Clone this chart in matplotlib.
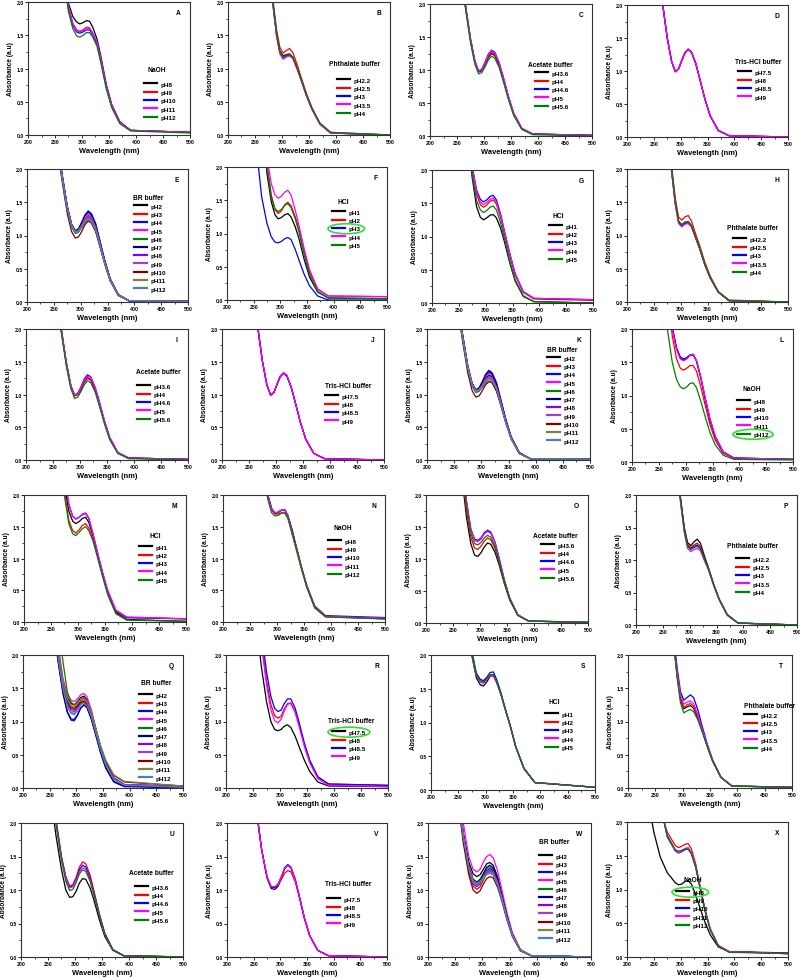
import matplotlib
matplotlib.use("Agg")
import matplotlib.pyplot as plt
from matplotlib.patches import Ellipse
from matplotlib.ticker import MultipleLocator, FormatStrFormatter

plt.rcParams['font.family'] = ['Liberation Sans', 'DejaVu Sans']
plt.rcParams['font.weight'] = 'bold'
plt.rcParams['axes.labelweight'] = 'bold'

# wavelength grid (nm) used for reading the curves
wl = [255, 265, 275, 283, 290, 296, 302, 308, 314, 320, 328, 335, 345, 355, 370, 390, 500]
wl_x = [240, 250, 262, 275, 290, 296, 302, 308, 314, 320, 328, 335, 345, 355, 370, 390, 500]

naoh_labels = ['pH8', 'pH9', 'pH10', 'pH11', 'pH12']
phth_labels = ['pH2.2', 'pH2.5', 'pH3', 'pH3.5', 'pH4']
acet_labels = ['pH3.6', 'pH4', 'pH4.6', 'pH5', 'pH5.6']
tris_labels = ['pH7.5', 'pH8', 'pH8.5', 'pH9']
hcl_labels = ['pH1', 'pH2', 'pH3', 'pH4', 'pH5']
br_labels = ['pH2', 'pH3', 'pH4', 'pH5', 'pH6', 'pH7', 'pH8', 'pH9', 'pH10', 'pH11', 'pH12']

colors5 = ['#000000', '#ff0000', '#0000ff', '#ff00ff', '#008000']
colors11 = ['#000000', '#ff0000', '#0000ff', '#ff00ff', '#008000', '#000080',
            '#8000ff', '#a040c8', '#800000', '#808040', '#4682b4']

# absorbance readings, one list per pH, in legend order
A_curves = [
    [3.5, 2.6, 1.98, 1.78, 1.70, 1.67, 1.69, 1.72, 1.71, 1.62, 1.44, 1.18, 0.76, 0.46, 0.20, 0.07, 0.04],
    [3.4, 2.5, 1.92, 1.68, 1.58, 1.56, 1.58, 1.62, 1.61, 1.53, 1.38, 1.13, 0.73, 0.44, 0.19, 0.07, 0.04],
    [3.4, 2.5, 1.90, 1.65, 1.55, 1.53, 1.55, 1.58, 1.58, 1.51, 1.37, 1.12, 0.73, 0.44, 0.19, 0.07, 0.04],
    [3.4, 2.5, 1.93, 1.67, 1.57, 1.55, 1.57, 1.61, 1.60, 1.53, 1.39, 1.14, 0.74, 0.45, 0.19, 0.07, 0.04],
    [3.3, 2.4, 1.85, 1.60, 1.49, 1.47, 1.50, 1.54, 1.54, 1.47, 1.33, 1.08, 0.69, 0.41, 0.17, 0.06, 0.03],
]
B_curves = [
    [4.5, 3.6, 2.6, 2.0, 1.52, 1.26, 1.19, 1.21, 1.22, 1.17, 1.01, 0.85, 0.61, 0.40, 0.17, 0.03, 0.0],
    [4.6, 3.7, 2.7, 2.05, 1.58, 1.32, 1.23, 1.27, 1.30, 1.24, 1.06, 0.88, 0.63, 0.42, 0.18, 0.04, 0.0],
    [4.5, 3.6, 2.6, 1.98, 1.50, 1.24, 1.16, 1.19, 1.20, 1.16, 1.00, 0.84, 0.60, 0.40, 0.17, 0.03, 0.0],
    [4.4, 3.5, 2.55, 1.96, 1.48, 1.22, 1.14, 1.17, 1.19, 1.15, 0.99, 0.83, 0.59, 0.39, 0.16, 0.03, 0.0],
    [4.5, 3.6, 2.6, 2.0, 1.52, 1.25, 1.17, 1.20, 1.21, 1.17, 1.01, 0.85, 0.61, 0.41, 0.18, 0.04, 0.0],
]
C_curves = [
    [2.6, 2.0, 1.45, 1.12, 0.97, 0.99, 1.08, 1.19, 1.25, 1.22, 1.07, 0.88, 0.58, 0.33, 0.11, 0.03, 0.01],
    [2.6, 2.0, 1.46, 1.13, 0.98, 1.00, 1.10, 1.21, 1.27, 1.24, 1.09, 0.89, 0.59, 0.34, 0.11, 0.03, 0.01],
    [2.65, 2.02, 1.47, 1.14, 0.98, 1.01, 1.12, 1.24, 1.30, 1.27, 1.11, 0.91, 0.60, 0.34, 0.11, 0.03, 0.01],
    [2.65, 2.03, 1.48, 1.14, 0.98, 1.01, 1.11, 1.23, 1.29, 1.26, 1.11, 0.92, 0.61, 0.35, 0.12, 0.03, 0.01],
    [2.55, 1.97, 1.42, 1.09, 0.94, 0.96, 1.05, 1.15, 1.21, 1.18, 1.04, 0.85, 0.56, 0.31, 0.10, 0.02, 0.0],
]
D_curves = [
    [3.0, 2.1, 1.5, 1.15, 0.99, 1.03, 1.16, 1.28, 1.33, 1.29, 1.12, 0.90, 0.58, 0.32, 0.10, 0.02, 0.0],
    [3.0, 2.1, 1.5, 1.15, 0.99, 1.03, 1.15, 1.27, 1.32, 1.28, 1.11, 0.90, 0.58, 0.32, 0.10, 0.02, 0.0],
    [3.0, 2.1, 1.5, 1.15, 0.99, 1.03, 1.16, 1.28, 1.33, 1.29, 1.12, 0.90, 0.58, 0.32, 0.10, 0.02, 0.0],
    [3.0, 2.1, 1.5, 1.15, 0.99, 1.03, 1.16, 1.28, 1.33, 1.29, 1.12, 0.90, 0.58, 0.32, 0.10, 0.02, 0.0],
]
E_curves = [
    [2.5, 1.92, 1.42, 1.16, 1.06, 1.08, 1.16, 1.25, 1.30, 1.27, 1.13, 0.91, 0.60, 0.34, 0.11, 0.02, 0.01],
    [2.5, 1.90, 1.40, 1.14, 1.04, 1.06, 1.12, 1.19, 1.22, 1.19, 1.06, 0.86, 0.57, 0.32, 0.10, 0.02, 0.01],
    [2.55, 1.94, 1.44, 1.17, 1.07, 1.10, 1.20, 1.31, 1.37, 1.33, 1.18, 0.95, 0.62, 0.35, 0.11, 0.02, 0.01],
    [2.5, 1.92, 1.43, 1.16, 1.06, 1.09, 1.17, 1.27, 1.32, 1.29, 1.14, 0.92, 0.61, 0.34, 0.11, 0.02, 0.01],
    [2.45, 1.88, 1.39, 1.13, 1.03, 1.05, 1.12, 1.21, 1.25, 1.22, 1.08, 0.88, 0.58, 0.33, 0.10, 0.02, 0.01],
    [2.55, 1.94, 1.44, 1.17, 1.07, 1.10, 1.19, 1.30, 1.35, 1.31, 1.16, 0.94, 0.62, 0.35, 0.11, 0.02, 0.01],
    [2.5, 1.90, 1.41, 1.15, 1.05, 1.07, 1.14, 1.23, 1.28, 1.25, 1.11, 0.90, 0.59, 0.33, 0.10, 0.02, 0.01],
    [2.5, 1.91, 1.42, 1.16, 1.06, 1.08, 1.15, 1.25, 1.30, 1.27, 1.12, 0.91, 0.60, 0.34, 0.11, 0.02, 0.01],
    [2.4, 1.84, 1.33, 1.06, 0.96, 0.98, 1.06, 1.16, 1.22, 1.19, 1.06, 0.86, 0.57, 0.32, 0.10, 0.02, 0.01],
    [2.5, 1.90, 1.41, 1.15, 1.05, 1.07, 1.13, 1.22, 1.26, 1.23, 1.09, 0.89, 0.58, 0.33, 0.10, 0.02, 0.01],
    [2.45, 1.89, 1.40, 1.14, 1.04, 1.06, 1.12, 1.20, 1.24, 1.21, 1.08, 0.87, 0.57, 0.32, 0.10, 0.02, 0.01],
]
F_curves = [
    [3.8, 2.8, 1.90, 1.48, 1.28, 1.22, 1.24, 1.28, 1.30, 1.25, 1.10, 0.92, 0.60, 0.34, 0.12, 0.03, 0.02],
    [4.0, 3.0, 2.05, 1.58, 1.36, 1.30, 1.34, 1.43, 1.47, 1.42, 1.25, 1.06, 0.72, 0.42, 0.16, 0.06, 0.05],
    [2.3, 1.55, 1.15, 0.95, 0.87, 0.86, 0.88, 0.92, 0.94, 0.91, 0.76, 0.60, 0.38, 0.21, 0.06, 0.0, 0.0],
    [4.2, 3.2, 2.15, 1.75, 1.58, 1.53, 1.56, 1.62, 1.65, 1.58, 1.35, 1.12, 0.76, 0.45, 0.17, 0.06, 0.05],
    [3.9, 2.9, 1.98, 1.55, 1.37, 1.33, 1.36, 1.42, 1.45, 1.39, 1.22, 1.02, 0.67, 0.38, 0.13, 0.03, 0.02],
]
G_curves = [
    [3.7, 2.7, 1.88, 1.45, 1.29, 1.25, 1.28, 1.32, 1.33, 1.28, 1.12, 0.92, 0.60, 0.33, 0.10, 0.02, 0.0],
    [3.9, 2.9, 2.0, 1.63, 1.48, 1.44, 1.47, 1.53, 1.55, 1.49, 1.28, 1.04, 0.71, 0.42, 0.16, 0.06, 0.04],
    [4.0, 3.0, 2.05, 1.70, 1.56, 1.52, 1.55, 1.60, 1.62, 1.55, 1.33, 1.08, 0.74, 0.44, 0.17, 0.07, 0.05],
    [4.0, 3.0, 2.05, 1.67, 1.52, 1.48, 1.51, 1.56, 1.58, 1.52, 1.31, 1.07, 0.74, 0.44, 0.17, 0.07, 0.05],
    [3.8, 2.8, 1.92, 1.54, 1.40, 1.36, 1.39, 1.44, 1.46, 1.40, 1.20, 0.97, 0.63, 0.35, 0.11, 0.02, 0.0],
]
H_curves = [
    [4.5, 3.6, 2.6, 2.0, 1.50, 1.22, 1.16, 1.20, 1.21, 1.15, 0.97, 0.82, 0.57, 0.37, 0.15, 0.02, 0.0],
    [4.6, 3.7, 2.7, 2.05, 1.56, 1.28, 1.23, 1.28, 1.30, 1.22, 1.02, 0.86, 0.60, 0.39, 0.16, 0.03, 0.0],
    [4.5, 3.6, 2.6, 1.98, 1.48, 1.20, 1.14, 1.18, 1.19, 1.14, 0.96, 0.81, 0.56, 0.36, 0.15, 0.02, 0.0],
    [4.4, 3.5, 2.55, 1.96, 1.46, 1.18, 1.13, 1.17, 1.18, 1.13, 0.96, 0.81, 0.56, 0.36, 0.15, 0.02, 0.0],
    [4.5, 3.6, 2.6, 2.0, 1.50, 1.22, 1.16, 1.20, 1.21, 1.15, 0.97, 0.82, 0.57, 0.37, 0.15, 0.02, 0.0],
]
I_curves = [
    [2.6, 2.0, 1.45, 1.12, 0.98, 1.00, 1.08, 1.19, 1.25, 1.22, 1.07, 0.88, 0.58, 0.33, 0.11, 0.03, 0.01],
    [2.6, 2.0, 1.46, 1.13, 0.98, 1.00, 1.10, 1.20, 1.26, 1.23, 1.08, 0.89, 0.59, 0.34, 0.11, 0.03, 0.01],
    [2.65, 2.02, 1.47, 1.14, 0.99, 1.02, 1.12, 1.24, 1.30, 1.27, 1.11, 0.91, 0.60, 0.34, 0.11, 0.03, 0.01],
    [2.65, 2.03, 1.48, 1.14, 0.99, 1.01, 1.11, 1.22, 1.28, 1.26, 1.11, 0.92, 0.61, 0.35, 0.12, 0.03, 0.01],
    [2.55, 1.97, 1.42, 1.09, 0.94, 0.96, 1.05, 1.15, 1.21, 1.18, 1.04, 0.85, 0.56, 0.31, 0.10, 0.02, 0.0],
]
J_curves = [
    [3.0, 2.1, 1.5, 1.15, 0.99, 1.03, 1.16, 1.28, 1.33, 1.29, 1.12, 0.90, 0.58, 0.32, 0.10, 0.02, 0.0],
    [3.0, 2.1, 1.5, 1.15, 0.99, 1.03, 1.16, 1.28, 1.33, 1.29, 1.12, 0.90, 0.58, 0.32, 0.10, 0.02, 0.0],
    [3.0, 2.1, 1.5, 1.15, 0.99, 1.03, 1.15, 1.27, 1.32, 1.28, 1.11, 0.90, 0.58, 0.32, 0.10, 0.02, 0.0],
    [3.0, 2.1, 1.5, 1.15, 0.99, 1.03, 1.16, 1.28, 1.33, 1.29, 1.12, 0.90, 0.58, 0.32, 0.10, 0.02, 0.0],
]
K_curves = [
    [2.5, 1.92, 1.42, 1.16, 1.06, 1.08, 1.16, 1.25, 1.30, 1.27, 1.13, 0.91, 0.60, 0.34, 0.11, 0.02, 0.01],
    [2.5, 1.90, 1.40, 1.14, 1.04, 1.06, 1.11, 1.17, 1.20, 1.18, 1.05, 0.86, 0.57, 0.32, 0.10, 0.02, 0.01],
    [2.55, 1.94, 1.44, 1.17, 1.07, 1.10, 1.20, 1.31, 1.37, 1.33, 1.18, 0.95, 0.62, 0.35, 0.11, 0.02, 0.01],
    [2.5, 1.92, 1.43, 1.16, 1.06, 1.09, 1.18, 1.28, 1.33, 1.30, 1.15, 0.93, 0.61, 0.34, 0.11, 0.02, 0.01],
    [2.45, 1.88, 1.39, 1.13, 1.03, 1.05, 1.12, 1.21, 1.25, 1.22, 1.08, 0.88, 0.58, 0.33, 0.10, 0.02, 0.01],
    [2.55, 1.94, 1.44, 1.17, 1.07, 1.10, 1.19, 1.30, 1.35, 1.31, 1.16, 0.94, 0.62, 0.35, 0.11, 0.02, 0.01],
    [2.5, 1.90, 1.41, 1.15, 1.05, 1.07, 1.14, 1.23, 1.28, 1.25, 1.11, 0.90, 0.59, 0.33, 0.10, 0.02, 0.01],
    [2.5, 1.91, 1.42, 1.16, 1.06, 1.08, 1.14, 1.23, 1.27, 1.25, 1.11, 0.90, 0.59, 0.33, 0.10, 0.02, 0.01],
    [2.4, 1.84, 1.33, 1.06, 0.96, 0.98, 1.06, 1.15, 1.20, 1.18, 1.05, 0.86, 0.57, 0.32, 0.10, 0.02, 0.01],
    [2.5, 1.90, 1.41, 1.15, 1.05, 1.07, 1.13, 1.21, 1.25, 1.22, 1.09, 0.89, 0.58, 0.33, 0.10, 0.02, 0.01],
    [2.45, 1.89, 1.40, 1.14, 1.04, 1.06, 1.12, 1.19, 1.23, 1.21, 1.08, 0.87, 0.57, 0.32, 0.10, 0.02, 0.01],
]
L_curves = [
    [3.9, 2.9, 2.02, 1.70, 1.56, 1.53, 1.56, 1.60, 1.61, 1.52, 1.27, 1.00, 0.64, 0.38, 0.15, 0.06, 0.04],
    [3.6, 2.6, 1.90, 1.55, 1.41, 1.38, 1.41, 1.45, 1.45, 1.37, 1.14, 0.90, 0.57, 0.33, 0.13, 0.05, 0.04],
    [3.9, 2.9, 2.03, 1.72, 1.58, 1.55, 1.57, 1.61, 1.62, 1.53, 1.28, 1.01, 0.65, 0.38, 0.15, 0.06, 0.04],
    [3.9, 2.9, 2.0, 1.69, 1.55, 1.52, 1.55, 1.60, 1.62, 1.53, 1.28, 1.02, 0.66, 0.39, 0.15, 0.06, 0.04],
    [3.0, 2.05, 1.50, 1.24, 1.13, 1.10, 1.13, 1.18, 1.19, 1.12, 0.92, 0.72, 0.45, 0.26, 0.10, 0.04, 0.03],
]
M_curves = [
    [4.0, 3.1, 2.15, 1.75, 1.59, 1.55, 1.58, 1.63, 1.65, 1.57, 1.35, 1.10, 0.76, 0.46, 0.15, 0.04, 0.01],
    [3.9, 3.0, 2.05, 1.60, 1.44, 1.40, 1.45, 1.52, 1.55, 1.48, 1.30, 1.08, 0.76, 0.47, 0.17, 0.07, 0.05],
    [4.2, 3.3, 2.3, 1.85, 1.67, 1.62, 1.65, 1.69, 1.71, 1.63, 1.38, 1.13, 0.79, 0.49, 0.18, 0.07, 0.05],
    [4.2, 3.3, 2.3, 1.85, 1.67, 1.62, 1.65, 1.70, 1.72, 1.64, 1.38, 1.14, 0.80, 0.50, 0.19, 0.08, 0.05],
    [3.8, 2.9, 1.98, 1.55, 1.39, 1.36, 1.41, 1.47, 1.50, 1.44, 1.27, 1.05, 0.73, 0.43, 0.13, 0.03, 0.01],
]
N_curves = [
    [4.5, 3.5, 2.45, 2.0, 1.78, 1.71, 1.72, 1.76, 1.77, 1.68, 1.44, 1.20, 0.86, 0.56, 0.23, 0.09, 0.05],
    [4.4, 3.4, 2.4, 1.97, 1.76, 1.70, 1.70, 1.72, 1.72, 1.64, 1.38, 1.16, 0.84, 0.55, 0.22, 0.08, 0.05],
    [4.5, 3.5, 2.45, 2.0, 1.79, 1.72, 1.73, 1.76, 1.77, 1.68, 1.45, 1.21, 0.88, 0.58, 0.25, 0.10, 0.07],
    [4.5, 3.5, 2.45, 2.0, 1.78, 1.72, 1.73, 1.76, 1.77, 1.68, 1.40, 1.20, 0.87, 0.57, 0.24, 0.09, 0.06],
    [4.3, 3.3, 2.35, 1.93, 1.72, 1.67, 1.68, 1.71, 1.72, 1.64, 1.42, 1.19, 0.86, 0.56, 0.23, 0.08, 0.05],
]
O_curves = [
    [3.2, 2.4, 1.65, 1.24, 1.06, 1.04, 1.10, 1.19, 1.25, 1.23, 1.10, 0.92, 0.62, 0.36, 0.12, 0.03, 0.01],
    [3.4, 2.5, 1.75, 1.34, 1.17, 1.15, 1.20, 1.28, 1.33, 1.30, 1.16, 0.96, 0.64, 0.37, 0.12, 0.03, 0.01],
    [3.6, 2.7, 1.90, 1.47, 1.31, 1.29, 1.33, 1.41, 1.45, 1.42, 1.26, 1.03, 0.68, 0.39, 0.13, 0.03, 0.01],
    [3.6, 2.7, 1.90, 1.46, 1.29, 1.27, 1.31, 1.39, 1.43, 1.40, 1.24, 1.02, 0.67, 0.39, 0.13, 0.03, 0.01],
    [3.5, 2.6, 1.82, 1.40, 1.24, 1.22, 1.26, 1.33, 1.37, 1.34, 1.19, 0.98, 0.65, 0.38, 0.12, 0.03, 0.01],
]
P_curves = [
    [4.5, 3.5, 2.5, 1.95, 1.50, 1.27, 1.22, 1.28, 1.32, 1.26, 1.05, 0.88, 0.62, 0.40, 0.16, 0.03, 0.0],
    [4.5, 3.5, 2.5, 1.95, 1.48, 1.24, 1.19, 1.23, 1.26, 1.21, 1.02, 0.87, 0.62, 0.40, 0.16, 0.03, 0.0],
    [4.4, 3.4, 2.45, 1.92, 1.46, 1.22, 1.17, 1.21, 1.23, 1.18, 1.00, 0.86, 0.61, 0.39, 0.15, 0.03, 0.0],
    [4.3, 3.3, 2.4, 1.88, 1.42, 1.18, 1.13, 1.16, 1.18, 1.14, 0.98, 0.85, 0.60, 0.39, 0.15, 0.03, 0.0],
    [4.4, 3.4, 2.45, 1.92, 1.45, 1.21, 1.16, 1.19, 1.21, 1.17, 1.00, 0.86, 0.61, 0.39, 0.16, 0.03, 0.0],
]
Q_curves = [
    [2.8, 2.1, 1.60, 1.36, 1.27, 1.25, 1.30, 1.36, 1.38, 1.33, 1.15, 0.93, 0.62, 0.38, 0.15, 0.05, 0.02],
    [2.8, 2.1, 1.57, 1.32, 1.22, 1.20, 1.25, 1.31, 1.33, 1.28, 1.12, 0.92, 0.62, 0.38, 0.15, 0.05, 0.02],
    [2.6, 1.95, 1.42, 1.14, 1.02, 1.01, 1.09, 1.20, 1.25, 1.21, 1.04, 0.84, 0.54, 0.30, 0.09, 0.02, 0.0],
    [2.9, 2.2, 1.65, 1.41, 1.32, 1.30, 1.34, 1.40, 1.42, 1.37, 1.18, 0.95, 0.63, 0.38, 0.15, 0.05, 0.02],
    [3.2, 2.5, 1.90, 1.45, 1.29, 1.25, 1.29, 1.34, 1.36, 1.31, 1.14, 0.93, 0.62, 0.38, 0.15, 0.05, 0.02],
    [2.6, 1.95, 1.43, 1.15, 1.04, 1.03, 1.10, 1.20, 1.25, 1.21, 1.04, 0.84, 0.55, 0.31, 0.10, 0.03, 0.01],
    [2.75, 2.05, 1.53, 1.27, 1.17, 1.15, 1.21, 1.28, 1.30, 1.26, 1.10, 0.90, 0.60, 0.36, 0.14, 0.05, 0.02],
    [2.7, 2.05, 1.52, 1.24, 1.14, 1.12, 1.18, 1.26, 1.29, 1.25, 1.09, 0.89, 0.60, 0.36, 0.14, 0.05, 0.02],
    [2.8, 2.1, 1.56, 1.30, 1.20, 1.18, 1.23, 1.29, 1.30, 1.26, 1.11, 0.92, 0.64, 0.41, 0.19, 0.09, 0.03],
    [2.85, 2.15, 1.60, 1.34, 1.24, 1.22, 1.27, 1.33, 1.35, 1.30, 1.14, 0.94, 0.65, 0.42, 0.20, 0.10, 0.03],
    [2.7, 2.0, 1.50, 1.22, 1.12, 1.10, 1.16, 1.25, 1.28, 1.24, 1.08, 0.88, 0.59, 0.35, 0.13, 0.04, 0.01],
]
R_curves = [
    [2.6, 1.85, 1.30, 1.00, 0.88, 0.86, 0.88, 0.93, 0.95, 0.91, 0.78, 0.63, 0.42, 0.25, 0.09, 0.03, 0.02],
    [3.1, 2.25, 1.62, 1.26, 1.09, 1.05, 1.08, 1.19, 1.27, 1.28, 1.15, 0.96, 0.65, 0.40, 0.16, 0.06, 0.04],
    [3.3, 2.4, 1.75, 1.38, 1.20, 1.15, 1.17, 1.27, 1.34, 1.34, 1.20, 1.00, 0.68, 0.42, 0.17, 0.06, 0.04],
    [3.0, 2.2, 1.55, 1.18, 1.01, 0.98, 1.03, 1.16, 1.26, 1.27, 1.14, 0.94, 0.63, 0.38, 0.14, 0.04, 0.02],
]
S_curves = [
    [3.8, 2.8, 1.98, 1.66, 1.56, 1.54, 1.60, 1.68, 1.70, 1.60, 1.42, 1.22, 0.95, 0.64, 0.32, 0.11, 0.04],
    [3.8, 2.8, 2.0, 1.70, 1.61, 1.60, 1.64, 1.70, 1.70, 1.60, 1.42, 1.22, 0.95, 0.64, 0.32, 0.11, 0.04],
    [3.9, 2.9, 2.05, 1.73, 1.64, 1.62, 1.67, 1.74, 1.75, 1.64, 1.44, 1.23, 0.95, 0.64, 0.32, 0.11, 0.04],
    [3.8, 2.8, 2.0, 1.69, 1.60, 1.58, 1.63, 1.69, 1.69, 1.59, 1.41, 1.21, 0.94, 0.64, 0.32, 0.11, 0.04],
    [3.8, 2.8, 2.0, 1.70, 1.62, 1.60, 1.65, 1.71, 1.71, 1.61, 1.42, 1.22, 0.95, 0.64, 0.32, 0.11, 0.04],
]
T_curves = [
    [4.9, 3.9, 2.9, 2.2, 1.68, 1.33, 1.19, 1.22, 1.24, 1.20, 1.05, 0.88, 0.63, 0.40, 0.16, 0.03, 0.01],
    [4.9, 3.9, 2.9, 2.2, 1.70, 1.35, 1.21, 1.25, 1.27, 1.23, 1.07, 0.89, 0.63, 0.41, 0.16, 0.03, 0.01],
    [5.0, 4.0, 3.0, 2.3, 1.80, 1.45, 1.32, 1.36, 1.40, 1.36, 1.17, 0.95, 0.66, 0.42, 0.16, 0.03, 0.01],
    [5.0, 4.0, 3.0, 2.25, 1.75, 1.40, 1.26, 1.29, 1.31, 1.27, 1.10, 0.91, 0.64, 0.41, 0.16, 0.03, 0.01],
    [5.0, 4.0, 2.95, 2.25, 1.65, 1.28, 1.13, 1.16, 1.18, 1.15, 1.02, 0.86, 0.62, 0.40, 0.16, 0.03, 0.01],
]
U_curves = [
    [2.4, 1.80, 1.30, 1.00, 0.89, 0.90, 0.98, 1.10, 1.17, 1.16, 1.03, 0.85, 0.56, 0.31, 0.10, 0.02, 0.0],
    [2.7, 2.05, 1.50, 1.20, 1.06, 1.08, 1.19, 1.34, 1.42, 1.39, 1.22, 0.99, 0.65, 0.36, 0.11, 0.02, 0.0],
    [2.65, 2.02, 1.48, 1.18, 1.04, 1.06, 1.16, 1.30, 1.37, 1.34, 1.18, 0.96, 0.63, 0.35, 0.11, 0.02, 0.0],
    [2.65, 2.0, 1.47, 1.17, 1.03, 1.05, 1.15, 1.27, 1.33, 1.31, 1.15, 0.94, 0.62, 0.34, 0.11, 0.02, 0.0],
    [2.6, 1.97, 1.44, 1.13, 0.99, 1.01, 1.11, 1.24, 1.30, 1.28, 1.13, 0.93, 0.62, 0.35, 0.11, 0.02, 0.0],
]
V_curves = [
    [2.2, 1.60, 1.18, 1.02, 1.01, 1.06, 1.18, 1.32, 1.37, 1.33, 1.15, 0.92, 0.58, 0.32, 0.10, 0.02, 0.0],
    [2.2, 1.60, 1.19, 1.04, 1.04, 1.08, 1.16, 1.25, 1.29, 1.27, 1.12, 0.91, 0.58, 0.32, 0.10, 0.02, 0.0],
    [2.2, 1.60, 1.20, 1.04, 1.04, 1.09, 1.20, 1.33, 1.38, 1.34, 1.16, 0.93, 0.59, 0.32, 0.10, 0.02, 0.0],
    [2.2, 1.60, 1.20, 1.05, 1.05, 1.09, 1.20, 1.32, 1.37, 1.33, 1.15, 0.93, 0.59, 0.32, 0.10, 0.02, 0.0],
]
W_curves = [
    [2.5, 1.85, 1.42, 1.24, 1.20, 1.23, 1.31, 1.39, 1.41, 1.37, 1.20, 0.97, 0.63, 0.35, 0.11, 0.02, 0.0],
    [2.4, 1.75, 1.28, 1.06, 1.01, 1.05, 1.15, 1.25, 1.28, 1.25, 1.10, 0.90, 0.59, 0.33, 0.10, 0.02, 0.0],
    [2.45, 1.80, 1.33, 1.12, 1.08, 1.12, 1.21, 1.29, 1.32, 1.29, 1.13, 0.92, 0.60, 0.34, 0.10, 0.02, 0.0],
    [2.7, 2.0, 1.50, 1.31, 1.27, 1.31, 1.42, 1.50, 1.53, 1.48, 1.29, 1.04, 0.67, 0.37, 0.11, 0.02, 0.0],
    [2.45, 1.80, 1.35, 1.14, 1.10, 1.14, 1.23, 1.32, 1.35, 1.31, 1.15, 0.93, 0.61, 0.34, 0.10, 0.02, 0.0],
    [2.5, 1.82, 1.36, 1.16, 1.12, 1.16, 1.25, 1.34, 1.37, 1.33, 1.16, 0.94, 0.62, 0.34, 0.10, 0.02, 0.0],
    [2.45, 1.78, 1.31, 1.09, 1.05, 1.09, 1.19, 1.27, 1.30, 1.27, 1.12, 0.91, 0.60, 0.33, 0.10, 0.02, 0.0],
    [2.45, 1.78, 1.32, 1.11, 1.07, 1.11, 1.19, 1.27, 1.29, 1.26, 1.11, 0.91, 0.59, 0.33, 0.10, 0.02, 0.0],
    [2.35, 1.70, 1.23, 1.00, 0.95, 0.99, 1.09, 1.17, 1.20, 1.18, 1.04, 0.86, 0.56, 0.31, 0.09, 0.02, 0.0],
    [2.45, 1.80, 1.34, 1.14, 1.10, 1.13, 1.19, 1.24, 1.26, 1.23, 1.09, 0.89, 0.59, 0.33, 0.10, 0.02, 0.0],
    [2.45, 1.80, 1.33, 1.12, 1.08, 1.11, 1.17, 1.23, 1.25, 1.22, 1.08, 0.89, 0.58, 0.33, 0.10, 0.02, 0.0],
]
X_curves = [
    [2.3, 1.85, 1.48, 1.25, 1.10, 1.07, 1.08, 1.12, 1.13, 1.08, 0.92, 0.75, 0.52, 0.33, 0.15, 0.08, 0.06],
    [5.0, 3.5, 2.2, 1.85, 1.65, 1.62, 1.64, 1.67, 1.68, 1.60, 1.38, 1.10, 0.72, 0.42, 0.17, 0.08, 0.05],
    [5.0, 3.5, 2.25, 1.78, 1.57, 1.54, 1.56, 1.59, 1.60, 1.53, 1.33, 1.07, 0.70, 0.41, 0.17, 0.08, 0.05],
    [5.0, 3.5, 2.25, 1.80, 1.58, 1.55, 1.57, 1.61, 1.62, 1.55, 1.35, 1.08, 0.71, 0.42, 0.17, 0.08, 0.05],
    [5.0, 3.5, 2.25, 1.80, 1.59, 1.57, 1.58, 1.60, 1.60, 1.53, 1.33, 1.06, 0.69, 0.40, 0.16, 0.07, 0.05],
]

# letter, legend title, labels, curves, x grid, axes rect px (l, t, w, h),
# title px (x, y), first legend row px (x, y), circled entry
panels = [
    ('A', 'NaOH', naoh_labels, A_curves, wl, (28, 3, 162, 133), (147, 71), (144, 85), None),
    ('B', 'Phthalate buffer', phth_labels, B_curves, wl, (228, 3, 162, 133), (329, 65), (337, 81), None),
    ('C', 'Acetate buffer', acet_labels, C_curves, wl, (430, 5, 162, 132), (528, 66), (535, 74), None),
    ('D', 'Tris-HCl buffer', tris_labels, D_curves, wl, (627, 6, 161, 132), (735, 63), (738, 73), None),
    ('E', 'BR buffer', br_labels, E_curves, wl, (27, 170, 161, 133), (133, 199), (134, 207), None),
    ('F', 'HCl', hcl_labels, F_curves, wl, (227, 168, 160, 133), (338, 203), (332, 213), 2),
    ('G', 'HCl', hcl_labels, G_curves, wl, (432, 171, 161, 133), (552, 217), (549, 227), None),
    ('H', 'Phthalate buffer', phth_labels, H_curves, wl, (627, 170, 161, 133), (727, 228), (733, 240), None),
    ('I', 'Acetate buffer', acet_labels, I_curves, wl, (26, 330, 162, 131), (136, 373), (137, 387), None),
    ('J', 'Tris-HCl buffer', tris_labels, J_curves, wl, (222, 330, 162, 131), (325, 387), (325, 397), None),
    ('K', 'BR buffer', br_labels, K_curves, wl, (427, 330, 163, 131), (547, 350), (547, 359), None),
    ('L', 'NaOH', naoh_labels, L_curves, wl, (632, 330, 161, 133), (742, 390), (737, 402), 4),
    ('M', 'HCl', hcl_labels, M_curves, wl, (24, 496, 162, 127), (149, 537), (139, 548), None),
    ('N', 'NaOH', naoh_labels, N_curves, wl, (223, 496, 162, 127), (333, 528), (328, 542), None),
    ('O', 'Acetate buffer', acet_labels, O_curves, wl, (426, 496, 162, 128), (533, 537), (541, 546), None),
    ('P', 'Phthalate buffer', phth_labels, P_curves, wl, (636, 496, 161, 130), (727, 547), (736, 560), None),
    ('Q', 'BR buffer', br_labels, Q_curves, wl, (23, 656, 160, 133), (141, 684), (139, 696), None),
    ('R', 'Tris-HCl buffer', tris_labels, R_curves, wl, (226, 656, 162, 133), (328, 722), (332, 733), 0),
    ('S', 'HCl', hcl_labels, S_curves, wl, (431, 656, 164, 135), (549, 703), (545, 715), None),
    ('T', 'Phthalate buffer', phth_labels, T_curves, wl, (628, 656, 164, 133), (744, 707), (744, 716), None),
    ('U', 'Acetate buffer', acet_labels, U_curves, wl, (21, 824, 162, 134), (129, 874), (135, 888), None),
    ('V', 'Tris-HCl buffer', tris_labels, V_curves, wl, (227, 824, 160, 134), (325, 885), (327, 900), None),
    ('W', 'BR buffer', br_labels, W_curves, wl, (428, 824, 163, 134), (539, 843), (539, 857), None),
    ('X', 'NaOH', naoh_labels, X_curves, wl_x, (627, 823, 161, 135), (684, 881), (676, 893), 0),
]

FW, FH = 800, 979
fig = plt.figure(figsize=(FW / 100, FH / 100), dpi=100)
circled = []

for letter, title, labels, curves, xs, rect, tpos, lpos, circ in panels:
    l, t, w, h = rect
    ax = fig.add_axes([l / FW, 1 - (t + h) / FH, w / FW, h / FH])
    cols = colors11 if len(labels) == 11 else colors5
    for lab, ys, c in zip(labels, curves, cols):
        ax.plot(xs, ys, color=c, lw=0.9, label=lab)
    ax.set_xlim(200, 500)
    ax.set_ylim(0, 2)
    ax.xaxis.set_major_locator(MultipleLocator(50))
    ax.xaxis.set_minor_locator(MultipleLocator(25))
    ax.yaxis.set_major_locator(MultipleLocator(0.5))
    ax.yaxis.set_minor_locator(MultipleLocator(0.25))
    ax.yaxis.set_major_formatter(FormatStrFormatter('%.1f'))
    ax.tick_params(which='major', length=2, width=0.6, labelsize=3.7, pad=1)
    ax.tick_params(which='minor', length=1.2, width=0.5)
    for s in ax.spines.values():
        s.set_linewidth(0.8)
        s.set_color('#333333')
    ax.set_xlabel('Wavelength (nm)', fontsize=5.4, labelpad=2)
    ax.set_ylabel('Absorbance (a.u)', fontsize=4.7, labelpad=2)

    hx, ey = lpos
    leg = ax.legend(loc='upper left', bbox_to_anchor=((hx - l) / w, 1 - (ey - 2.8 - t) / h),
                    frameon=False, fontsize=4.6, borderpad=0, borderaxespad=0,
                    labelspacing=0.44, handlelength=2.1, handletextpad=0.5)
    for ln in leg.get_lines():
        ln.set_linewidth(1.6)
    tx, ty = tpos
    ax.text((tx - l) / w, 1 - (ty - t) / h, title, transform=ax.transAxes,
            fontsize=4.8, ha='left', va='center')
    ax.text(0.93, 0.92, letter, transform=ax.transAxes, fontsize=4.8,
            ha='center', va='center')
    if circ is not None:
        circled.append((leg, circ))

fig.canvas.draw()
r = fig.canvas.get_renderer()
for leg, idx in circled:
    tb = leg.get_texts()[idx].get_window_extent(r)
    lb = leg.get_lines()[idx].get_window_extent(r)
    x0 = min(tb.x0, lb.x0) - 4
    x1 = max(tb.x1, lb.x1) + 4
    yc = (tb.y0 + tb.y1) / 2
    hh = tb.height + 5
    fig.add_artist(Ellipse(((x0 + x1) / 2 / FW, yc / FH), (x1 - x0) / FW, hh / FH,
                           transform=fig.transFigure, fill=False,
                           ec='#33dd33', lw=1.2))

fig.savefig('out.png', dpi=100)
